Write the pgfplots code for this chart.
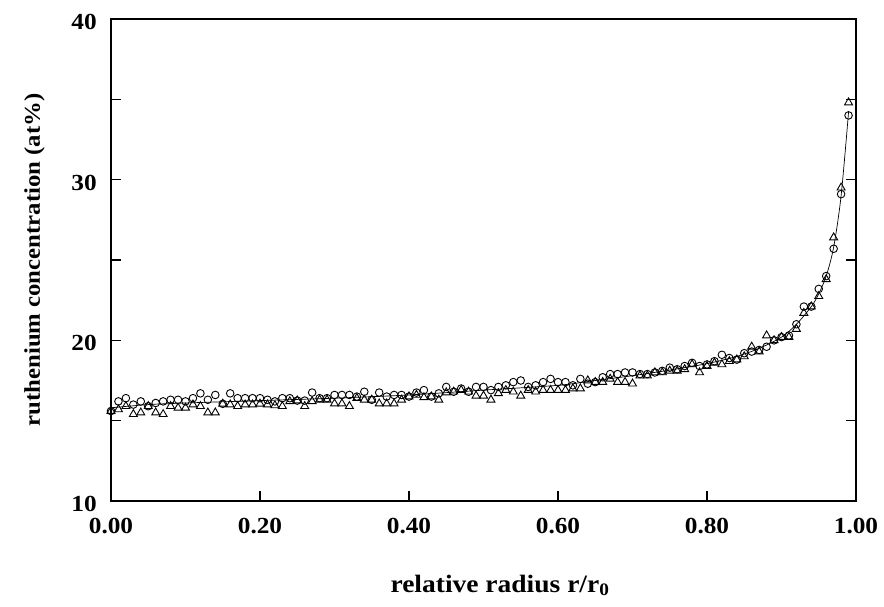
\documentclass[border=0pt]{standalone}
\usepackage{fontspec}
\setmainfont{Liberation Serif}[FakeStretch=1.1]
\usepackage{pgfplots}
\pgfplotsset{compat=1.18}
\begin{document}
\begin{tikzpicture}
\useasboundingbox (-111pt,-105pt) rectangle (773pt,501pt);
\begin{axis}[
  at={(0,0)}, anchor=south west,
  scale only axis, width=745pt, height=482pt,
  xmin=0, xmax=1, ymin=10, ymax=40,
  xtick={0,0.2,0.4,0.6,0.8,1.0},
  xticklabels={0.00,0.20,0.40,0.60,0.80,1.00},
  ytick={10,20,30,40}, yticklabels={10,20,30,40},
  minor ytick={15,25,35},
  xtick pos=left, ytick pos=both,
  tick align=inside,
  major tick length=10pt, minor tick length=10pt,
  every tick/.style={line width=1.1pt, black},
  minor tick style={line width=1.1pt, black},
  axis line style={line width=1.5pt},
  xticklabel style={anchor=north, inner sep=0pt, yshift=-17pt},
  yticklabel style={anchor=east, inner sep=0pt, xshift=-14pt, yshift=-3pt},
  tick label style={font=\fontsize{23}{27}\selectfont\bfseries},
  clip=false,
]
\addplot[black, line width=0.7pt, smooth, no marks] coordinates {
(0,15.8)(0.05,16.0)(0.1,16.1)(0.2,16.25)(0.3,16.4)(0.4,16.6)(0.5,16.9)(0.6,17.2)(0.65,17.5)(0.7,17.8)(0.75,18.15)(0.8,18.55)(0.84,19.0)(0.87,19.5)(0.9,20.2)(0.92,21.0)(0.94,22.1)(0.95,22.9)(0.96,24.0)(0.97,25.8)(0.98,29.0)(0.99,34.2)
};
\addplot[only marks, mark=triangle, mark size=4.6pt, mark options={black, line width=0.9pt}] coordinates {
(0.00,15.6)(0.01,15.7)(0.02,15.9)(0.03,15.4)(0.04,15.5)(0.05,15.9)(0.06,15.5)(0.07,15.4)(0.08,15.9)(0.09,15.8)
(0.10,15.8)(0.11,16.0)(0.12,15.9)(0.13,15.5)(0.14,15.5)(0.15,16.05)(0.16,16.0)(0.17,15.9)(0.18,16.0)(0.19,16.0)
(0.20,16.05)(0.21,16.0)(0.22,15.95)(0.23,15.9)(0.24,16.2)(0.25,16.25)(0.26,15.9)(0.27,16.2)(0.28,16.3)(0.29,16.3)
(0.30,16.06)(0.31,16.06)(0.32,15.9)(0.33,16.4)(0.34,16.3)(0.35,16.3)(0.36,16.06)(0.37,16.06)(0.38,16.06)(0.39,16.3)
(0.40,16.5)(0.41,16.6)(0.42,16.45)(0.43,16.5)(0.44,16.3)(0.45,16.75)(0.46,16.8)(0.47,16.9)(0.48,16.8)(0.49,16.55)
(0.50,16.55)(0.51,16.3)(0.52,16.7)(0.53,16.9)(0.54,16.8)(0.55,16.55)(0.56,16.9)(0.57,16.8)(0.58,16.9)(0.59,16.9)
(0.60,16.9)(0.61,16.9)(0.62,17.0)(0.63,17.0)(0.64,17.5)(0.65,17.4)(0.66,17.4)(0.67,17.6)(0.68,17.4)(0.69,17.4)
(0.70,17.3)(0.71,17.8)(0.72,17.8)(0.73,18.0)(0.74,18.0)(0.75,18.1)(0.76,18.1)(0.77,18.2)(0.78,18.5)(0.79,18.0)
(0.80,18.4)(0.81,18.6)(0.82,18.5)(0.83,18.7)(0.84,18.8)(0.85,19.0)(0.86,19.6)(0.87,19.3)(0.88,20.3)(0.89,20.0)
(0.90,20.2)(0.91,20.2)(0.92,20.7)(0.93,21.7)(0.94,22.1)(0.95,22.75)(0.96,23.8)(0.97,26.4)(0.98,29.5)(0.99,34.8)
};
\addplot[only marks, mark=o, mark size=3.8pt, mark options={black, line width=0.9pt}] coordinates {
(0.00,15.6)(0.01,16.2)(0.02,16.4)(0.03,16.0)(0.04,16.2)(0.05,15.9)(0.06,16.1)(0.07,16.2)(0.08,16.3)(0.09,16.3)
(0.10,16.2)(0.11,16.4)(0.12,16.7)(0.13,16.3)(0.14,16.6)(0.15,16.05)(0.16,16.7)(0.17,16.4)(0.18,16.4)(0.19,16.4)
(0.20,16.4)(0.21,16.3)(0.22,16.2)(0.23,16.4)(0.24,16.4)(0.25,16.25)(0.26,16.25)(0.27,16.75)(0.28,16.4)(0.29,16.4)
(0.30,16.6)(0.31,16.6)(0.32,16.6)(0.33,16.5)(0.34,16.8)(0.35,16.3)(0.36,16.75)(0.37,16.5)(0.38,16.6)(0.39,16.6)
(0.40,16.5)(0.41,16.75)(0.42,16.9)(0.43,16.5)(0.44,16.7)(0.45,17.1)(0.46,16.8)(0.47,17.0)(0.48,16.8)(0.49,17.1)
(0.50,17.1)(0.51,16.9)(0.52,17.1)(0.53,17.2)(0.54,17.4)(0.55,17.5)(0.56,17.1)(0.57,17.2)(0.58,17.4)(0.59,17.6)
(0.60,17.4)(0.61,17.4)(0.62,17.2)(0.63,17.6)(0.64,17.3)(0.65,17.4)(0.66,17.7)(0.67,17.9)(0.68,17.9)(0.69,18.0)
(0.70,18.0)(0.71,17.9)(0.72,17.9)(0.73,18.0)(0.74,18.1)(0.75,18.3)(0.76,18.2)(0.77,18.4)(0.78,18.6)(0.79,18.4)
(0.80,18.5)(0.81,18.7)(0.82,19.1)(0.83,18.9)(0.84,18.8)(0.85,19.2)(0.86,19.3)(0.87,19.4)(0.88,19.6)(0.89,20.0)
(0.90,20.2)(0.91,20.3)(0.92,21.0)(0.93,22.1)(0.94,22.1)(0.95,23.2)(0.96,24.0)(0.97,25.7)(0.98,29.1)(0.99,34.0)
};
\end{axis}
\node[rotate=90, anchor=base, font=\fontsize{22.5}{27}\selectfont\bfseries] at (-71pt,241pt) {ruthenium concentration (at\%)};
\node[anchor=base, font=\fontsize{25}{30}\selectfont\bfseries] at (389pt,-91pt) {relative radius r/r\textsubscript{0}};
\end{tikzpicture}
\end{document}
